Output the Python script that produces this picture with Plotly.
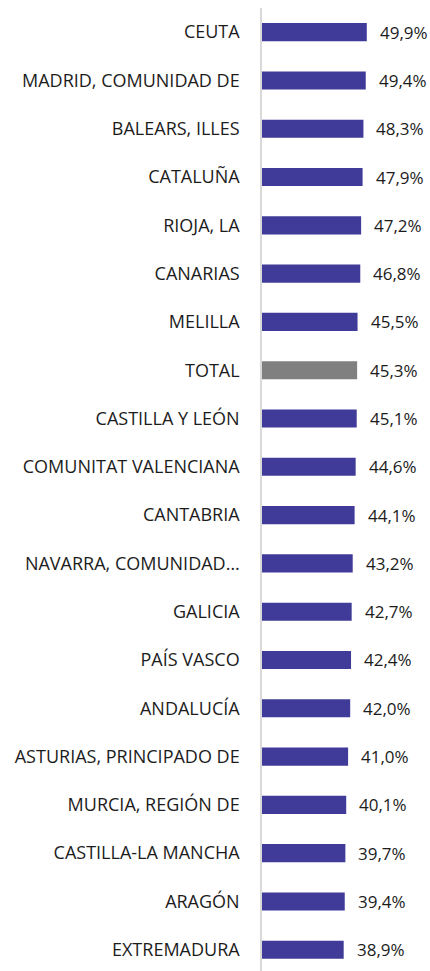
import plotly.graph_objects as go

# Share of population by autonomous community (percent)
regions = [
    "CEUTA", "MADRID, COMUNIDAD DE", "BALEARS, ILLES", "CATALUÑA", "RIOJA, LA",
    "CANARIAS", "MELILLA", "TOTAL", "CASTILLA Y LEÓN", "COMUNITAT VALENCIANA",
    "CANTABRIA", "NAVARRA, COMUNIDAD…", "GALICIA", "PAÍS VASCO", "ANDALUCÍA",
    "ASTURIAS, PRINCIPADO DE", "MURCIA, REGIÓN DE", "CASTILLA-LA MANCHA",
    "ARAGÓN", "EXTREMADURA",
]
values = [49.9, 49.4, 48.3, 47.9, 47.2, 46.8, 45.5, 45.3, 45.1, 44.6,
          44.1, 43.2, 42.7, 42.4, 42.0, 41.0, 40.1, 39.7, 39.4, 38.9]

BAR = "#403B98"
TOTAL_COLOR = "#808080"
colors = [TOTAL_COLOR if r == "TOTAL" else BAR for r in regions]

FONT = "Open Sans"
TEXT_COLOR = "#1c1c1c"

fig = go.Figure(
    go.Bar(
        y=regions,
        x=values,
        orientation="h",
        marker=dict(color=colors, line=dict(width=0)),
        hoverinfo="skip",
    )
)

# value labels to the right of each bar
for r, v in zip(regions, values):
    fig.add_annotation(
        x=v, y=r, xref="x", yref="y",
        text=f"{v:.1f}%".replace(".", ","),
        showarrow=False, xanchor="left", xshift=11,
        font=dict(family=FONT, size=17, color=TEXT_COLOR),
    )

fig.update_layout(
    width=430, height=971,
    margin=dict(l=262, r=0, t=8, b=0),
    paper_bgcolor="white", plot_bgcolor="white",
    bargap=0.625,
    showlegend=False,
    font=dict(family=FONT, size=18, color=TEXT_COLOR),
)
fig.update_xaxes(range=[0, 80], visible=False, showgrid=False, zeroline=False)
fig.update_yaxes(
    range=[19.44, -0.5],
    showline=True, linecolor="#d9d9d9", linewidth=1.5,
    showgrid=False, ticks="", ticklabelstandoff=17,
    tickfont=dict(family=FONT, size=18, color=TEXT_COLOR),
)

fig.write_html("out.html")
